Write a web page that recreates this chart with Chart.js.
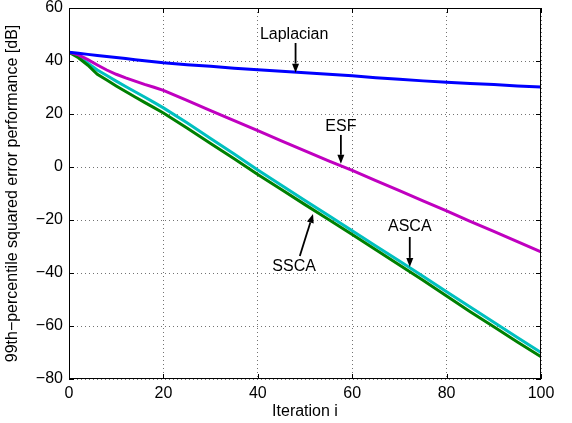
<!DOCTYPE html>
<html lang="en">
<head>
    <meta charset="UTF-8">
    <title>Squared error performance vs iteration</title>
    <script src="https://cdn.jsdelivr.net/npm/chart.js"></script>
    <style>
        html, body { margin: 0; padding: 0; background: #ffffff; }
        #wrap { width: 572px; height: 423px; }
    </style>
</head>
<body>
    <div id="wrap"><canvas id="errChart" width="572" height="423"></canvas></div>

    <script>
        // sample iterations (x) shared by all curves
        const iterations = [0, 2, 4, 6, 8, 10, 12, 14, 16, 18, 20, 25, 30, 35, 40, 45, 50, 55, 60, 65, 70, 75, 80, 85, 90, 95, 100];

        // 99th-percentile squared error [dB]
        const laplacian = [43.3, 42.9, 42.5, 42.1, 41.7, 41.3, 40.9, 40.5, 40.1, 39.7, 39.3, 38.6, 38.0, 37.3, 36.7, 36.1, 35.6, 35.0, 34.4, 33.7, 33.1, 32.5, 32.0, 31.5, 31.1, 30.6, 30.2];
        const esf = [43.3, 42.3, 40.5, 38.5, 36.6, 35.0, 33.6, 32.4, 31.2, 30.1, 28.9, 25.1, 21.3, 17.5, 13.7, 9.9, 6.1, 2.3, -1.3, -5.1, -8.9, -12.8, -16.6, -20.5, -24.3, -28.2, -32.0];
        const asca = [43.3, 41.9, 39.2, 36.6, 34.5, 32.4, 30.4, 28.4, 26.4, 24.4, 22.3, 16.7, 10.8, 4.9, -1.1, -6.9, -12.6, -18.3, -24.1, -29.8, -35.5, -41.2, -47.1, -52.8, -58.6, -64.3, -70.0];
        const ssca = [43.3, 41.2, 38.4, 35.0, 32.8, 30.6, 28.5, 26.4, 24.4, 22.4, 20.4, 14.7, 8.9, 3.1, -2.8, -8.5, -14.2, -19.8, -25.5, -31.2, -37.0, -42.7, -48.7, -54.6, -60.3, -66.0, -71.6];

        const xTicks = [0, 20, 40, 60, 80, 100];
        const yTicks = [-80, -60, -40, -20, 0, 20, 40, 60];

        // label text + arrow (tail -> tip) in data coordinates
        const annotations = [
            { text: 'Laplacian', tx: 47.7, ty: 49.8, x0: 48.0, y0: 46.8, x1: 48.0, y1: 35.6 },
            { text: 'ESF',       tx: 57.6, ty: 15.1, x0: 57.6, y0: 12.1, x1: 57.6, y1: 1.2 },
            { text: 'SSCA',      tx: 47.7, ty: -37.4, x0: 48.9, y0: -33.6, x1: 51.7, y1: -17.7 },
            { text: 'ASCA',      tx: 72.2, ty: -22.6, x0: 72.2, y0: -26.4, x1: 72.2, y1: -37.7 }
        ];

        const FONT = '"Liberation Sans", Arial, Helvetica, sans-serif';

        function toPoints(ys) {
            return iterations.map((x, i) => ({ x: x, y: ys[i] }));
        }

        function minus(v) {
            return String(v).replace('-', '\u2212');
        }

        // MATLAB style box with inward ticks on every side
        const boxPlugin = {
            id: 'box',
            afterDraw(chart) {
                const { ctx, chartArea: a, scales } = chart;
                ctx.save();
                ctx.strokeStyle = '#000';
                ctx.lineWidth = 1;
                ctx.strokeRect(a.left + 0.5, a.top + 0.5, a.right - a.left - 1, a.bottom - a.top - 1);
                ctx.beginPath();
                xTicks.forEach(v => {
                    const px = Math.round(scales.x.getPixelForValue(v)) + 0.5;
                    ctx.moveTo(px, a.bottom); ctx.lineTo(px, a.bottom - 5);
                    ctx.moveTo(px, a.top); ctx.lineTo(px, a.top + 5);
                });
                yTicks.forEach(v => {
                    const py = Math.round(scales.y.getPixelForValue(v)) + 0.5;
                    ctx.moveTo(a.left, py); ctx.lineTo(a.left + 5, py);
                    ctx.moveTo(a.right, py); ctx.lineTo(a.right - 5, py);
                });
                ctx.stroke();
                ctx.restore();
            }
        };

        const arrowPlugin = {
            id: 'arrows',
            afterDatasetsDraw(chart) {
                const { ctx, scales } = chart;
                ctx.save();
                ctx.fillStyle = '#000';
                ctx.strokeStyle = '#000';
                ctx.lineWidth = 1.8;
                ctx.font = '16px ' + FONT;
                ctx.textAlign = 'center';
                ctx.textBaseline = 'middle';
                annotations.forEach(an => {
                    ctx.fillText(an.text, scales.x.getPixelForValue(an.tx), scales.y.getPixelForValue(an.ty));
                    const x0 = scales.x.getPixelForValue(an.x0), y0 = scales.y.getPixelForValue(an.y0);
                    const x1 = scales.x.getPixelForValue(an.x1), y1 = scales.y.getPixelForValue(an.y1);
                    const ang = Math.atan2(y1 - y0, x1 - x0);
                    const head = 9, half = 3.5;
                    const bx = x1 - head * Math.cos(ang), by = y1 - head * Math.sin(ang);
                    ctx.beginPath();
                    ctx.moveTo(x0, y0);
                    ctx.lineTo(bx, by);
                    ctx.stroke();
                    ctx.beginPath();
                    ctx.moveTo(x1, y1);
                    ctx.lineTo(bx + half * Math.sin(ang), by - half * Math.cos(ang));
                    ctx.lineTo(bx - half * Math.sin(ang), by + half * Math.cos(ang));
                    ctx.closePath();
                    ctx.fill();
                });
                ctx.restore();
            }
        };

        function lineSet(label, ys, color) {
            return {
                label: label,
                data: toPoints(ys),
                borderColor: color,
                backgroundColor: color,
                borderWidth: 3,
                pointRadius: 0,
                tension: 0,
                fill: false
            };
        }

        const ctx = document.getElementById('errChart').getContext('2d');
        const chart = new Chart(ctx, {
            type: 'line',
            data: {
                datasets: [
                    lineSet('Laplacian', laplacian, '#0000ff'),
                    lineSet('ESF', esf, '#c000c0'),
                    lineSet('SSCA', ssca, '#008000'),
                    lineSet('ASCA', asca, '#00c0c0')
                ]
            },
            options: {
                responsive: false,
                animation: false,
                events: [],
                layout: { padding: { top: 8, right: 31, left: 0, bottom: 0 } },
                plugins: {
                    legend: { display: false },
                    tooltip: { enabled: false }
                },
                scales: {
                    x: {
                        type: 'linear',
                        min: 0, max: 100,
                        afterBuildTicks: s => { s.ticks = xTicks.map(v => ({ value: v })); },
                        afterFit: s => { s.height = 44; s.paddingLeft = 0; s.paddingRight = 0; },
                        ticks: { color: '#000', font: { family: FONT, size: 16 }, padding: 5, maxRotation: 0, autoSkip: false },
                        grid: { color: 'rgba(0,0,0,0.55)', lineWidth: 1, drawTicks: false },
                        border: { display: false, dash: [1, 3] },
                        title: { display: true, text: 'Iteration i', color: '#000', font: { family: FONT, size: 16 }, padding: { top: 0, bottom: 2 } }
                    },
                    y: {
                        type: 'linear',
                        min: -80, max: 60,
                        afterBuildTicks: s => { s.ticks = yTicks.map(v => ({ value: v })); },
                        afterFit: s => { s.width = 69; s.paddingTop = 0; s.paddingBottom = 0; },
                        ticks: { color: '#000', font: { family: FONT, size: 16 }, padding: 6, callback: v => minus(v) },
                        grid: { color: 'rgba(0,0,0,0.55)', lineWidth: 1, drawTicks: false },
                        border: { display: false, dash: [1, 3] },
                        title: { display: true, text: '99th\u2212percentile squared error performance [dB]', color: '#000', font: { family: FONT, size: 16 }, padding: { top: 3, bottom: 0 } }
                    }
                }
            },
            plugins: [boxPlugin, arrowPlugin]
        });
    </script>
</body>
</html>
